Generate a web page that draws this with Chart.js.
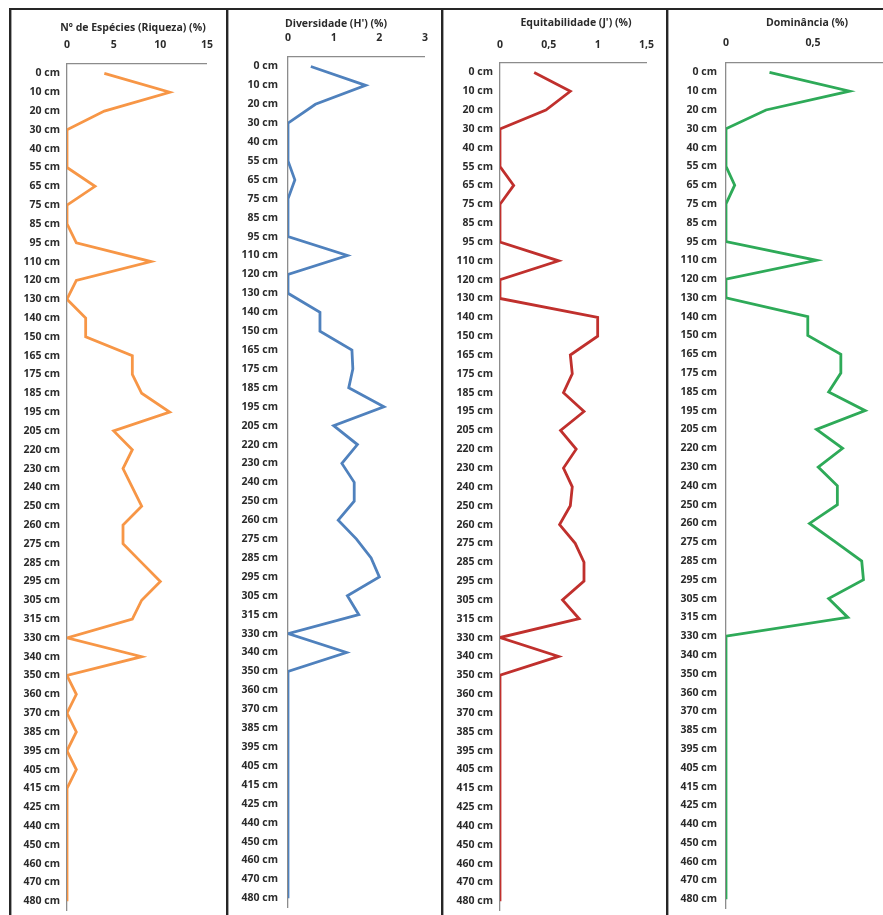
<!DOCTYPE html>
<html>
<head>
<meta charset="utf-8">
<script src="https://cdn.jsdelivr.net/npm/chart.js@4.4.1/dist/chart.umd.min.js"></script>
<style>
  html, body { margin: 0; padding: 0; background: #fff; width: 883px; height: 915px; overflow: hidden; }
  .box { position: absolute; top: 10px; height: 920px; border-left: 1px solid #a6a6a6; border-right: 1px solid #a6a6a6; box-sizing: border-box; }
  .dark { position: absolute; background: #262626; }
  canvas { position: absolute; }
</style>
</head>
<body>
<div class="box" style="left:11px;width:217px;"></div>
<div class="box" style="left:228px;width:215px;"></div>
<div class="box" style="left:443px;width:225px;"></div>
<div class="box" style="left:668px;width:260px;"></div>
<div class="dark" style="left:9px;top:8px;width:900px;height:2px;"></div>
<div class="dark" style="left:9px;top:8px;width:2px;height:920px;"></div>
<div class="dark" style="left:226px;top:8px;width:2px;height:920px;"></div>
<div class="dark" style="left:441px;top:8px;width:2px;height:920px;"></div>
<div class="dark" style="left:666px;top:8px;width:2px;height:920px;"></div>

<canvas id="p1" width="216" height="915" style="left:10px;top:9px;"></canvas>
<canvas id="p2" width="212" height="915" style="left:229px;top:9px;"></canvas>
<canvas id="p3" width="222" height="915" style="left:444px;top:9px;"></canvas>
<canvas id="p4" width="250" height="915" style="left:669px;top:9px;"></canvas>

<script>
// Sampling depths of the core
const depths = [0, 10, 20, 30, 40, 55, 65, 75, 85, 95, 110, 120, 130, 140, 150, 165, 175, 185, 195, 205,
  220, 230, 240, 250, 260, 275, 285, 295, 305, 315, 330, 340, 350, 360, 370, 385, 395, 405, 415, 425,
  440, 450, 460, 470, 480];
const depthLabels = depths.map(d => d + ' cm');

// Nº de espécies (riqueza)
const riqueza = [4, 11, 4, 0, 0, 0, 3, 0, 0, 1, 9, 1, 0, 2, 2, 7, 7, 8, 11, 5,
  7, 6, 7, 8, 6, 6, 8, 10, 8, 7, 0, 8, 0, 1, 0, 1, 0, 1, 0, 0,
  0, 0, 0, 0, 0];

// Diversidade de Shannon (H')
const diversidade = [0.5, 1.7, 0.6, 0, 0, 0, 0.15, 0, 0, 0, 1.3, 0, 0, 0.7, 0.7, 1.4, 1.42, 1.33, 2.1, 1.0,
  1.52, 1.18, 1.45, 1.45, 1.1, 1.5, 1.82, 2.0, 1.3, 1.55, 0, 1.28, 0, 0, 0, 0, 0, 0, 0, 0,
  0, 0, 0, 0, 0];

// Equitabilidade de Pielou (J')
const equitabilidade = [0.35, 0.72, 0.47, 0, 0, 0, 0.14, 0, 0, 0, 0.6, 0, 0, 1.0, 1.0, 0.72, 0.74, 0.65, 0.86, 0.62,
  0.78, 0.65, 0.74, 0.72, 0.61, 0.77, 0.86, 0.86, 0.64, 0.81, 0, 0.6, 0, 0, 0, 0, 0, 0, 0, 0,
  0, 0, 0, 0, 0];

// Dominância
const dominancia = [0.25, 0.71, 0.23, 0, 0, 0, 0.05, 0, 0, 0, 0.52, 0, 0, 0.47, 0.47, 0.66, 0.66, 0.59, 0.8, 0.52,
  0.67, 0.53, 0.64, 0.64, 0.48, 0.63, 0.78, 0.79, 0.59, 0.7, 0, 0, 0, 0, 0, 0, 0, 0, 0, 0,
  0, 0, 0, 0, 0];

// Value axis ranges (min, max, step) for each panel
const riquezaAxis = [0, 15, 5];
const diversidadeAxis = [0, 3, 1];
const equitabilidadeAxis = [0, 1.5, 0.5];
const dominanciaAxis = [0, 1, 0.5];

const titles = [
  'Nº de Espécies (Riqueza) (%)',
  'Diversidade (H\') (%)',
  'Equitabilidade (J\') (%)',
  'Dominância (%)'
];

const FONT = '"Open Sans", "Liberation Sans", sans-serif';
const TEXT = '#2b2b2b';
const AXIS = '#8c8c8c';

// Draws the panel heading above the value axis
const panelTitle = {
  id: 'panelTitle',
  afterDraw(chart, args, opts) {
    const ctx = chart.ctx;
    ctx.save();
    ctx.font = 'bold 10.5px ' + FONT;
    ctx.fillStyle = TEXT;
    ctx.textAlign = 'center';
    ctx.textBaseline = 'middle';
    ctx.fillText(opts.text, opts.x, opts.y);
    ctx.restore();
  }
};

const fmt = v => String(Math.round(v * 10) / 10).replace('.', ',');

function makePanel(id, values, axisRange, color, title, lay) {
  const [min, max, step] = axisRange;
  return new Chart(document.getElementById(id), {
    type: 'line',
    data: {
      labels: depthLabels,
      datasets: [{
        data: values,
        borderColor: color,
        borderWidth: 2.8,
        pointRadius: 0,
        tension: 0,
        fill: false
      }]
    },
    plugins: [panelTitle],
    options: {
      indexAxis: 'y',
      responsive: false,
      animation: false,
      events: [],
      layout: { padding: { left: 0, right: lay.padRight, top: 0, bottom: lay.padBottom } },
      plugins: {
        legend: { display: false },
        tooltip: { enabled: false },
        title: { display: false },
        panelTitle: { text: title, x: lay.titleX, y: lay.titleY }
      },
      scales: {
        x: {
          position: 'top',
          min: min,
          max: max,
          afterFit: s => { s.height = lay.axisTop; },
          grid: { display: false, drawTicks: false },
          border: { display: true, color: AXIS, width: 1.3 },
          ticks: {
            stepSize: step,
            padding: lay.tickPad,
            color: TEXT,
            font: { family: FONT, size: 10.5, weight: 'bold' },
            maxRotation: 0,
            callback: v => fmt(v)
          }
        },
        y: {
          type: 'category',
          offset: true,
          afterFit: s => { s.width = lay.axisLeft; },
          grid: { display: false, drawTicks: false },
          border: { display: true, color: AXIS, width: 1.3 },
          ticks: {
            autoSkip: false,
            padding: lay.labelPad,
            color: TEXT,
            font: { family: FONT, size: 10.5, weight: 'bold' }
          }
        }
      }
    }
  });
}

makePanel('p1', riqueza, riquezaAxis, '#F79646', titles[0],
  { axisLeft: 57, axisTop: 55, padRight: 13, padBottom: 11, tickPad: 13, labelPad: 7, titleX: 123, titleY: 19 });
makePanel('p2', diversidade, diversidadeAxis, '#4F81BD', titles[1],
  { axisLeft: 59, axisTop: 48, padRight: 6, padBottom: 14, tickPad: 13, labelPad: 10, titleX: 107, titleY: 15 });
makePanel('p3', equitabilidade, equitabilidadeAxis, '#C0302D', titles[2],
  { axisLeft: 56, axisTop: 54, padRight: 16, padBottom: 12, tickPad: 12, labelPad: 7, titleX: 132, titleY: 14 });
makePanel('p4', dominancia, dominanciaAxis, '#2EAA58', titles[3],
  { axisLeft: 57, axisTop: 54, padRight: 19, padBottom: 12, tickPad: 14, labelPad: 9, titleX: 138, titleY: 14 });
</script>
</body>
</html>
